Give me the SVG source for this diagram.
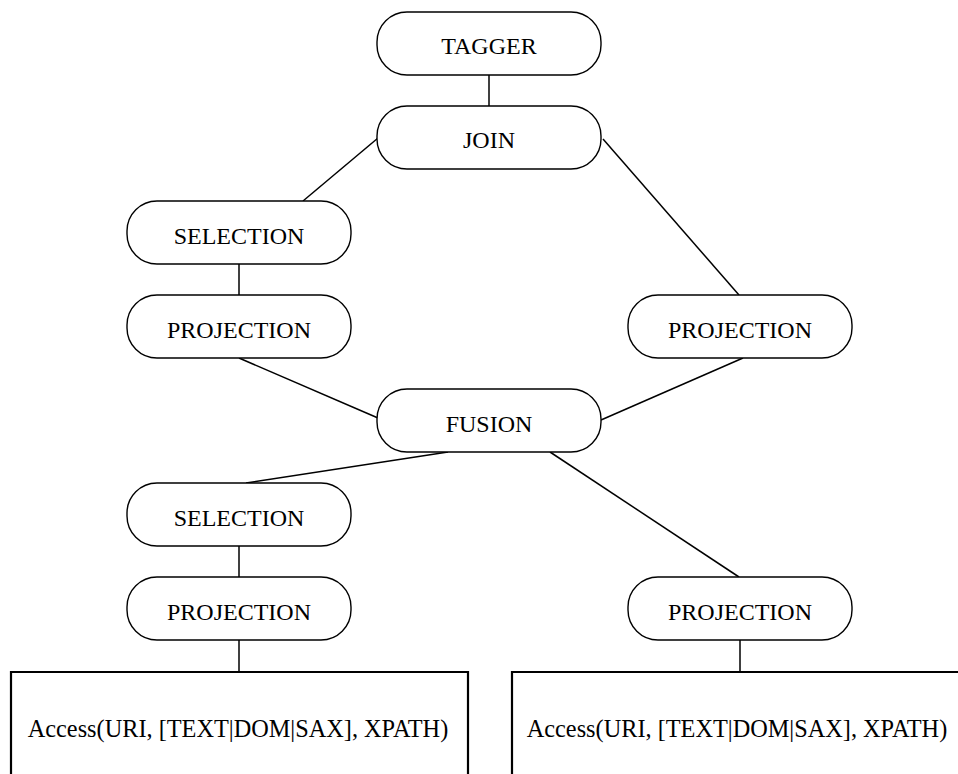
<svg xmlns="http://www.w3.org/2000/svg" width="958" height="774" viewBox="0 0 958 774">
  <style>
    .node rect { fill: #ffffff; stroke: #000000; stroke-width: 1.4; }
    .node text { font-family: "Liberation Serif", "Times New Roman", serif; font-size: 24px; fill: #000000; text-anchor: middle; }
    .edges line { stroke: #000000; stroke-width: 1.5; }
    .source path { fill: none; stroke: #000000; stroke-width: 2.2; }
    .source text { font-family: "Liberation Serif", "Times New Roman", serif; font-size: 24.3px; fill: #000000; text-anchor: middle; }
  </style>
  <rect x="0" y="0" width="958" height="774" fill="#ffffff"/>

  <!-- connectors -->
  <g id="edges" class="edges">
    <line x1="489" y1="75" x2="489" y2="106"/>
    <line x1="378" y1="138" x2="303" y2="201"/>
    <line x1="603" y1="139" x2="739" y2="295"/>
    <line x1="239" y1="264" x2="239" y2="295"/>
    <line x1="239" y1="358" x2="378" y2="418"/>
    <line x1="743" y1="358" x2="601" y2="420"/>
    <line x1="448" y1="452" x2="246" y2="483"/>
    <line x1="550" y1="452" x2="739" y2="577"/>
    <line x1="239" y1="546" x2="239" y2="577"/>
    <line x1="239" y1="640" x2="239" y2="672"/>
    <line x1="740" y1="640" x2="740" y2="672"/>
  </g>

  <!-- operator nodes -->
  <g id="tagger" class="node">
    <rect x="377" y="12" width="224" height="63" rx="30" ry="30"/>
    <text x="489" y="54">TAGGER</text>
  </g>
  <g id="join" class="node">
    <rect x="377" y="106" width="224" height="63" rx="30" ry="30"/>
    <text x="489" y="148">JOIN</text>
  </g>
  <g id="selection-1" class="node">
    <rect x="127" y="201" width="224" height="63" rx="30" ry="30"/>
    <text x="239" y="244">SELECTION</text>
  </g>
  <g id="projection-1" class="node">
    <rect x="127" y="295" width="224" height="63" rx="30" ry="30"/>
    <text x="239" y="338">PROJECTION</text>
  </g>
  <g id="projection-2" class="node">
    <rect x="628" y="295" width="224" height="63" rx="30" ry="30"/>
    <text x="740" y="338">PROJECTION</text>
  </g>
  <g id="fusion" class="node">
    <rect x="377" y="389" width="224" height="63" rx="30" ry="30"/>
    <text x="489" y="432">FUSION</text>
  </g>
  <g id="selection-2" class="node">
    <rect x="127" y="483" width="224" height="63" rx="30" ry="30"/>
    <text x="239" y="526">SELECTION</text>
  </g>
  <g id="projection-3" class="node">
    <rect x="127" y="577" width="224" height="63" rx="30" ry="30"/>
    <text x="239" y="620">PROJECTION</text>
  </g>
  <g id="projection-4" class="node">
    <rect x="628" y="577" width="224" height="63" rx="30" ry="30"/>
    <text x="740" y="620">PROJECTION</text>
  </g>

  <!-- data source access boxes (open at the page edge) -->
  <g id="access-1" class="source">
    <path d="M11,780 V672 H468 V780"/>
    <text x="238" y="737">Access(URI, [TEXT|DOM|SAX], XPATH)</text>
  </g>
  <g id="access-2" class="source">
    <path d="M512,780 V672 H960"/>
    <text x="737" y="737">Access(URI, [TEXT|DOM|SAX], XPATH)</text>
  </g>
</svg>
